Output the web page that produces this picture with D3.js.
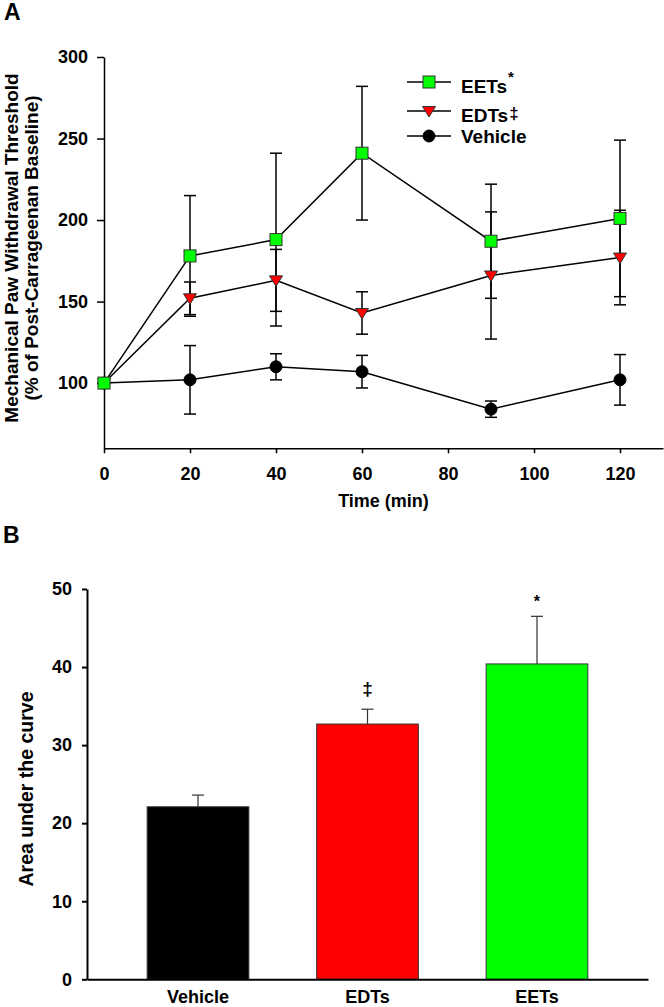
<!DOCTYPE html>
<html lang="en">
<head>
  <meta charset="UTF-8">
  <title>Mechanical paw withdrawal threshold and area under the curve</title>
  <script src="https://d3js.org/d3.v7.min.js"></script>
  <style>
    body {
      margin: 0;
      padding: 0;
      background: #fff;
    }
    svg text {
      font-family: "Liberation Sans", Arial, sans-serif;
      font-weight: bold;
      fill: #000;
    }
  </style>
</head>
<body>
  <svg id="chart" width="664" height="1007"></svg>

  <script>
    // Panel A: time course (mean and SE, % of post-carrageenan baseline)
    const times = [0, 20, 40, 60, 90, 120];
    const eetsMean = [100, 178, 188, 241, 187, 201];
    const eetsSE = [0, 37, 53, 41, 35, 48];
    const edtsMean = [100, 152, 163, 143, 166, 177];
    const edtsSE = [0, 10, 19, 13, 39, 29];
    const vehicleMean = [100, 102, 110, 107, 84, 102];
    const vehicleSE = [0, 21, 8, 10, 5, 15.5];

    const xTicksA = [0, 20, 40, 60, 80, 100, 120];
    const yTicksA = [100, 150, 200, 250, 300];

    // Panel B: area under the curve
    const groups = ["Vehicle", "EDTs", "EETs"];
    const aucMean = [22.1, 32.7, 40.4];
    const aucSE = [1.5, 1.9, 6.1];
    const aucMarks = ["", "\u2021", "*"];
    const yTicksB = [0, 10, 20, 30, 40, 50];

    const svg = d3.select("#chart");

    // ---------- Panel A ----------
    const xA = d3.scaleLinear().domain([0, 130]).range([104, 663]);
    const yA = d3.scaleLinear().domain([60, 300]).range([448.3, 57]);

    svg.append("text").attr("x", 4).attr("y", 20)
      .style("font-size", "23px").text("A");

    const gA = svg.append("g");

    gA.append("g")
      .attr("transform", `translate(0,${yA(60)})`)
      .call(d3.axisBottom(xA).tickValues(xTicksA).tickSize(5).tickPadding(14).tickSizeOuter(0))
      .call(g => g.selectAll("path, line").attr("stroke", "#000").attr("stroke-width", 1.5))
      .call(g => g.selectAll("text").style("font-size", "18px").attr("font-family", null));

    gA.append("g")
      .attr("transform", `translate(${xA(0)},0)`)
      .call(d3.axisLeft(yA).tickValues(yTicksA).tickSize(7).tickPadding(9).tickSizeOuter(0))
      .call(g => g.selectAll("path, line").attr("stroke", "#000").attr("stroke-width", 1.5))
      .call(g => g.selectAll("text").style("font-size", "18px").attr("font-family", null));

    svg.append("text")
      .attr("text-anchor", "middle")
      .attr("transform", `translate(383.5,507) `)
      .style("font-size", "18px")
      .text("Time (min)");

    const yTitle = svg.append("text")
      .attr("text-anchor", "middle")
      .attr("transform", "translate(0,248) rotate(-90)")
      .style("font-size", "19px");
    yTitle.append("tspan").attr("x", 0).attr("y", 18).text("Mechanical Paw Withdrawal Threshold");
    yTitle.append("tspan").attr("x", 0).attr("y", 38).text("(% of Post-Carrageenan Baseline)");

    const series = [
      { name: "Vehicle", mean: vehicleMean, se: vehicleSE, color: "#000000", shape: "circle" },
      { name: "EDTs", mean: edtsMean, se: edtsSE, color: "#ff0000", shape: "triangle" },
      { name: "EETs", mean: eetsMean, se: eetsSE, color: "#00ff00", shape: "square" }
    ];

    const line = d3.line().x(d => xA(d.t)).y(d => yA(d.v));
    const capW = 6;

    function drawMarker(g, shape, color, cx, cy) {
      if (shape === "circle") {
        g.append("circle").attr("cx", cx).attr("cy", cy).attr("r", 6)
          .attr("fill", color).attr("stroke", "#000").attr("stroke-width", 1);
      } else if (shape === "square") {
        g.append("rect").attr("x", cx - 6).attr("y", cy - 6).attr("width", 12).attr("height", 12)
          .attr("fill", color).attr("stroke", "#333").attr("stroke-width", 1);
      } else {
        g.append("path")
          .attr("d", `M${cx - 6.5},${cy - 4.5}L${cx + 6.5},${cy - 4.5}L${cx},${cy + 6}Z`)
          .attr("fill", color).attr("stroke", "#333").attr("stroke-width", 1);
      }
    }

    // error bars first, then lines, then markers
    series.forEach(s => {
      const pts = times.map((t, i) => ({ t, v: s.mean[i], e: s.se[i] }));
      const eg = gA.append("g").attr("stroke", "#000").attr("stroke-width", 1.5);
      pts.filter(p => p.e > 0).forEach(p => {
        const x = xA(p.t);
        eg.append("line").attr("x1", x).attr("x2", x).attr("y1", yA(p.v - p.e)).attr("y2", yA(p.v + p.e));
        eg.append("line").attr("x1", x - capW).attr("x2", x + capW).attr("y1", yA(p.v + p.e)).attr("y2", yA(p.v + p.e));
        eg.append("line").attr("x1", x - capW).attr("x2", x + capW).attr("y1", yA(p.v - p.e)).attr("y2", yA(p.v - p.e));
      });
    });

    series.forEach(s => {
      const pts = times.map((t, i) => ({ t, v: s.mean[i] }));
      gA.append("path").datum(pts).attr("d", line)
        .attr("fill", "none").attr("stroke", "#000").attr("stroke-width", 1.5);
    });

    series.forEach(s => {
      const mg = gA.append("g");
      times.forEach((t, i) => drawMarker(mg, s.shape, s.color, xA(t), yA(s.mean[i])));
    });

    // legend
    const legendRows = [
      { s: series[2], y: 82, base: 93, sup: "*", supSize: 15, supDy: -11 },
      { s: series[1], y: 111, base: 122, sup: "\u2021", supSize: 17, supDy: -3 },
      { s: series[0], y: 136, base: 143, sup: "", supSize: 0, supDy: 0 }
    ];
    const lg = svg.append("g");
    legendRows.forEach(r => {
      lg.append("line").attr("x1", 407).attr("x2", 451).attr("y1", r.y).attr("y2", r.y)
        .attr("stroke", "#000").attr("stroke-width", 1.5);
      drawMarker(lg, r.s.shape, r.s.color, 429, r.y);
      const t = lg.append("text").attr("x", 461).attr("y", r.base).style("font-size", "19px");
      t.append("tspan").text(r.s.name);
      if (r.sup) {
        t.append("tspan").attr("dx", 1).attr("dy", r.supDy).style("font-size", r.supSize + "px").text(r.sup);
      }
    });

    // ---------- Panel B ----------
    const xB = d3.scaleBand().domain(groups).range([87, 648]).paddingInner(0.4).paddingOuter(0.355);
    const yB = d3.scaleLinear().domain([0, 50]).range([979.3, 589]);
    const barColors = ["#000000", "#ff0000", "#00ff00"];

    svg.append("text").attr("x", 3).attr("y", 543)
      .style("font-size", "23px").text("B");

    const gB = svg.append("g");

    gB.selectAll(".err")
      .data(groups)
      .join("g")
      .attr("class", "err")
      .each(function (d, i) {
        const x = xB(d) + xB.bandwidth() / 2;
        const top = yB(aucMean[i] + aucSE[i]);
        const g = d3.select(this).attr("stroke", "#333").attr("stroke-width", 1.2);
        g.append("line").attr("x1", x).attr("x2", x).attr("y1", yB(aucMean[i])).attr("y2", top);
        g.append("line").attr("x1", x - 6).attr("x2", x + 6).attr("y1", top).attr("y2", top);
      });

    gB.selectAll(".bar")
      .data(groups)
      .join("rect")
      .attr("class", "bar")
      .attr("x", d => xB(d))
      .attr("width", xB.bandwidth())
      .attr("y", (d, i) => yB(aucMean[i]))
      .attr("height", (d, i) => yB(0) - yB(aucMean[i]))
      .attr("fill", (d, i) => barColors[i])
      .attr("stroke", "#333")
      .attr("stroke-width", 1);

    gB.selectAll(".mark")
      .data(groups)
      .join("text")
      .attr("class", "mark")
      .attr("text-anchor", "middle")
      .attr("x", d => xB(d) + xB.bandwidth() / 2)
      .attr("y", (d, i) => yB(aucMean[i] + aucSE[i]) - (i === 2 ? 9 : 14))
      .style("font-size", (d, i) => i === 2 ? "16px" : "19px")
      .text((d, i) => aucMarks[i]);

    gB.append("g")
      .attr("transform", `translate(${xB.range()[0]},0)`)
      .call(d3.axisLeft(yB).tickValues(yTicksB).tickSize(5).tickPadding(10).tickSizeOuter(0))
      .call(g => g.selectAll("path, line").attr("stroke", "#000").attr("stroke-width", 2))
      .call(g => g.selectAll("text").style("font-size", "18px").attr("font-family", null));

    gB.append("g")
      .attr("transform", `translate(0,${yB(0)})`)
      .call(d3.axisBottom(xB).tickSize(0).tickPadding(11).tickSizeOuter(0))
      .call(g => g.selectAll("path").attr("stroke", "#000").attr("stroke-width", 2))
      .call(g => g.selectAll("text").style("font-size", "18px").attr("font-family", null));

    svg.append("text")
      .attr("text-anchor", "middle")
      .attr("transform", "translate(33,789) rotate(-90)")
      .style("font-size", "19.5px")
      .text("Area under the curve");
  </script>
</body>
</html>
